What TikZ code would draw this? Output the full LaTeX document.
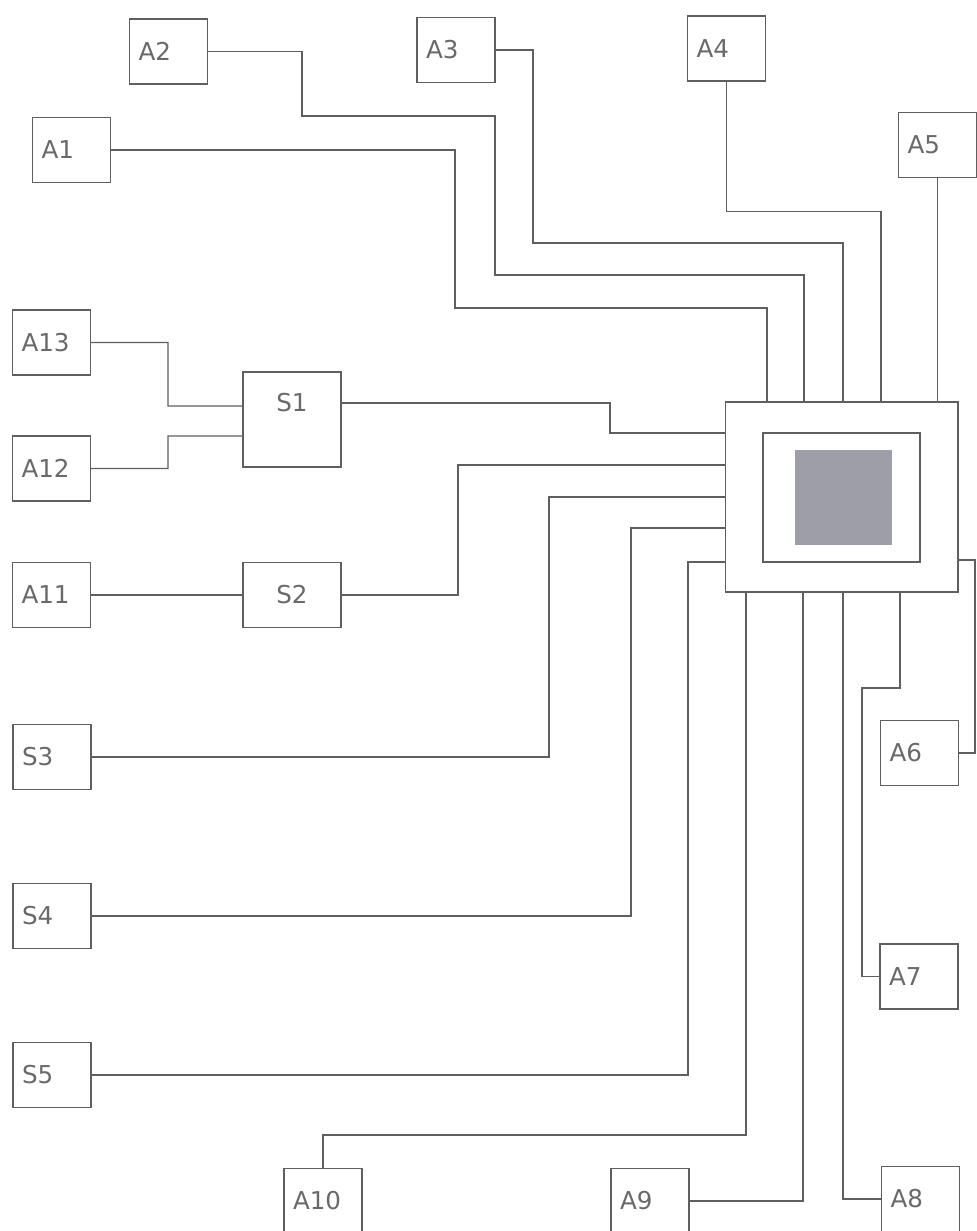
\documentclass[tikz,border=0pt]{standalone}
\usepackage{fontspec}
\newfontfamily\plotfont{DejaVu Sans}
\usepackage{tikz}
\usetikzlibrary{calc,positioning}

\definecolor{linegray}{RGB}{95,95,95}
\definecolor{textgray}{RGB}{105,105,105}
\definecolor{chipgray}{RGB}{158,158,168}

\tikzset{
  blk/.style={draw=linegray, line width=0.6pt, minimum width=1.56cm, minimum height=1.3cm,
    inner sep=0pt, text width=1.2cm, align=left, text=textgray,
    font=\plotfont\fontsize{14}{16}\selectfont},
  sblk/.style={blk, minimum width=1.96cm, text width=1.6cm, align=center},
  wire/.style={draw=linegray, line width=0.6pt},
}

\begin{document}
\begin{tikzpicture}[x=0.02cm, y=-0.02cm]
        \clip (0,0) rectangle (977,1231);

        % central unit
        \node[draw=linegray, line width=0.6pt, minimum width=4.66cm, minimum height=3.8cm] (hub) at (841.5,497) {};
        \node[draw=linegray, line width=0.6pt, minimum width=3.14cm, minimum height=2.58cm] (core) at (841.5,497.5) {};
        \node[fill=chipgray, minimum width=1.94cm, minimum height=1.9cm] (chip) at (843.5,497.5) {};

        \coordinate (t1) at (767,402);
        \coordinate (t2) at (804,402);
        \coordinate (t3) at (843,402);
        \coordinate (t4) at (881,402);

        \coordinate (l1) at (725,433);
        \coordinate (l2) at (725,465);
        \coordinate (l3) at (725,497);
        \coordinate (l4) at (725,528);
        \coordinate (l5) at (725,562);

        \coordinate (b1) at (746,592);
        \coordinate (b2) at (803,592);
        \coordinate (b3) at (843,592);
        \coordinate (b4) at (900,592);

        \coordinate (r1) at (958,560);

        % blocks
        \node[blk] (A1) at (71.5,150) {A1};
        \node[blk] (A2) at (168.5,51.5) {A2};
        \node[blk] (A3) at (456,50) {A3};
        \node[blk] (A4) at (726.5,48.5) {A4};
        \node[blk] (A5) at (937.5,145) {A5};
        \node[blk] (A6) at (919.5,753) {A6};
        \node[blk] (A7) at (919,976.5) {A7};
        \node[blk] (A8) at (920.5,1199) {A8};
        \node[blk] (A9) at (650,1201) {A9};
        \node[blk] (A10) at (323,1201) {A10};
        \node[blk] (A11) at (51.5,595) {A11};
        \node[blk] (A12) at (51.5,468.5) {A12};
        \node[blk] (A13) at (51.5,342.5) {A13};

        \node[sblk, minimum height=1.9cm, text height=0.78cm, text depth=1.12cm] (S1) at (292,419.5) {S1};
        \node[sblk] (S2) at (292,595) {S2};
        \node[blk] (S3) at (52,757) {S3};
        \node[blk] (S4) at (52,916) {S4};
        \node[blk] (S5) at (52,1075) {S5};

        % top lines
        \draw[wire] (A1.east) -| (455,308) -| (t1);
        \draw[wire] (A2.east) -| (302,116) -| (495,275) -| (t2);
        \draw[wire] (A3.east) -| (533,243) -| (t3);
        \draw[wire] (A4.south) -- ++(0,130) -| (t4);
        \draw[wire] (A5.south) -- (A5.south |- hub.north);

        % left lines
        \draw[wire] (A13.east) -| (168,406) -- ([yshift=0.27cm]S1.west);
        \draw[wire] (A12.east) -| (168,436) -- ([yshift=-0.33cm]S1.west);
        \draw[wire] (A11.east) -- (S2.west);
        \draw[wire] ([yshift=0.33cm]S1.east) -| (610,433) -- (l1);
        \draw[wire] (S2.east) -| (458,465) -- (l2);
        \draw[wire] (S3.east) -| (549,497) -- (l3);
        \draw[wire] (S4.east) -| (631,528) -- (l4);
        \draw[wire] (S5.east) -| (688,562) -- (l5);

        % bottom and right lines
        \draw[wire] (A10.north) -- ++(0,-33) -| (b1);
        \draw[wire] (A9.east) -| (b2);
        \draw[wire] (A8.west) -| (b3);
        \draw[wire] (A7.west) -| (862,688) -| (b4);
        \draw[wire] (A6.east) -| (975,560) -- (r1);
    \end{tikzpicture}
\end{document}
